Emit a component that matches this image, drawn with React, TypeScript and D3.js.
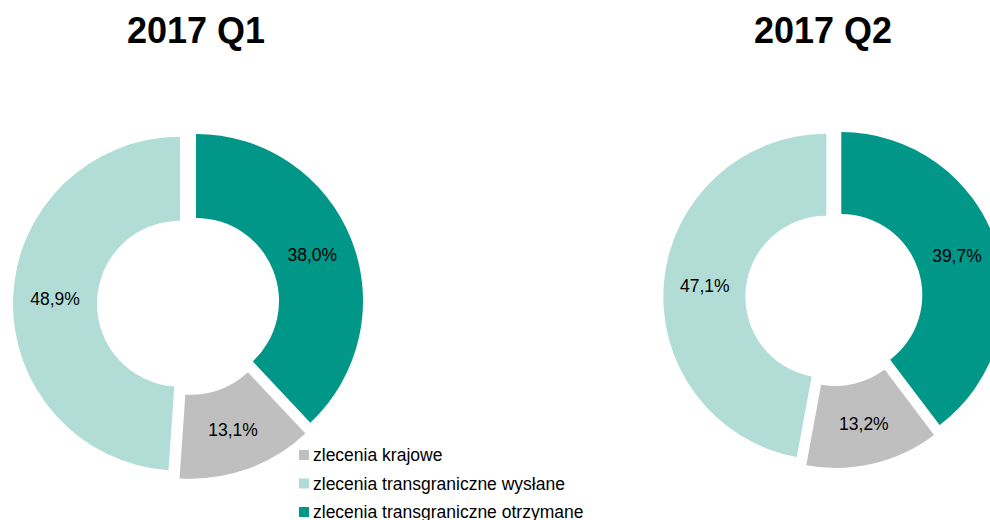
import React from "react";
import * as d3 from "d3";

const quarters = ["2017 Q1", "2017 Q2"];
const categories = [
  "zlecenia transgraniczne otrzymane",
  "zlecenia krajowe",
  "zlecenia transgraniczne wysłane",
];
const q1Values = [38.0, 13.1, 48.9];
const q2Values = [39.7, 13.2, 47.1];
const legendOrder = [1, 2, 0];
const colors = ["#009688", "#BFBFBF", "#B2DDD7"];

const W = 990;
const H = 520;
const FONT = "'Liberation Sans', Arial, sans-serif";

const layouts = [
  { cx: 188.3, cy: 304, R: 167, r: 83, d: 8.3, tx: 196 },
  { cx: 834, cy: 297.5, R: 163, r: 81, d: 7.7, tx: 823 },
];

const fmt = (v: number) => v.toFixed(1).replace(".", ",") + "%";

function Donut({ values, layout, title }: { values: number[]; layout: any; title: string }) {
  const pie = d3.pie<number>().sort(null).startAngle(0).endAngle(2 * Math.PI);
  const arcs = pie(values);
  const arcGen = d3.arc<d3.PieArcDatum<number>>().innerRadius(layout.r).outerRadius(layout.R);
  return (
    <g>
      <text
        x={layout.tx}
        y={43}
        textAnchor="middle"
        fontFamily={FONT}
        fontWeight="bold"
        fontSize={36}
        fill="#000"
      >
        {title}
      </text>
      <g transform={`translate(${layout.cx},${layout.cy})`}>
        {arcs.map((a, i) => {
          const mid = (a.startAngle + a.endAngle) / 2;
          const dx = layout.d * Math.sin(mid);
          const dy = -layout.d * Math.cos(mid);
          const [lx, ly] = arcGen.centroid(a);
          return (
            <g key={i} transform={`translate(${dx},${dy})`}>
              <path d={arcGen(a) || ""} fill={colors[i]} />
              <text
                x={lx}
                y={ly}
                textAnchor="middle"
                dominantBaseline="central"
                fontFamily={FONT}
                fontSize={17.5}
                fill="#000"
              >
                {fmt(values[i])}
              </text>
            </g>
          );
        })}
      </g>
    </g>
  );
}

export default function App() {
  const legendY = d3.scalePoint<number>().domain(legendOrder).range([455, 512]);
  return (
    <svg
      width={W}
      height={H}
      style={{ position: "fixed", left: 0, top: 0, background: "#fff" }}
    >
      <rect width={W} height={H} fill="#fff" />
      <Donut values={q1Values} layout={layouts[0]} title={quarters[0]} />
      <Donut values={q2Values} layout={layouts[1]} title={quarters[1]} />
      <g>
        {legendOrder.map((ci) => {
          const y = legendY(ci) as number;
          return (
            <g key={ci}>
              <rect x={299} y={y - 5} width={10} height={10} fill={colors[ci]} />
              <text
                x={313}
                y={y}
                dominantBaseline="central"
                fontFamily={FONT}
                fontSize={17.5}
                fill="#000"
              >
                {categories[ci]}
              </text>
            </g>
          );
        })}
      </g>
    </svg>
  );
}
